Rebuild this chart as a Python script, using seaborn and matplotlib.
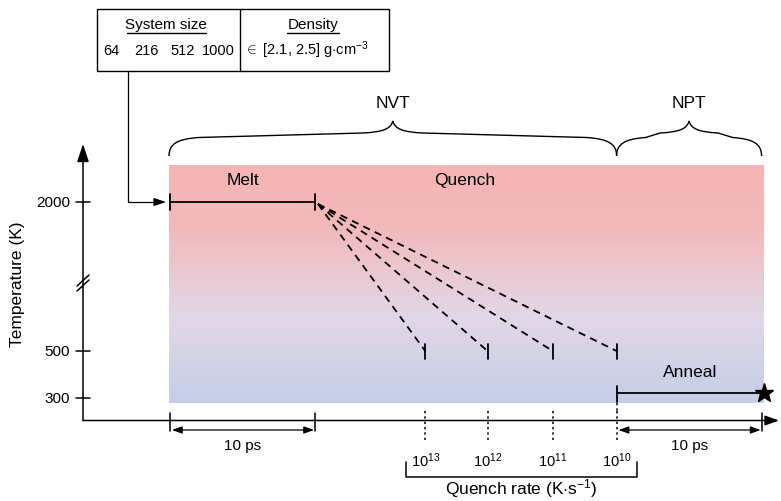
import numpy as np
import pandas as pd
import matplotlib
matplotlib.use("Agg")
import matplotlib.pyplot as plt
from matplotlib.path import Path
from matplotlib.patches import PathPatch, Rectangle
from matplotlib.colors import LinearSegmentedColormap
import seaborn as sns

# ---- schematic data ----
temp_ticks = [2000, 500, 300]          # K
T_melt = 2000
T_quench_end = 500
T_anneal = 300
melt_time = 10                          # ps
anneal_time = 10                        # ps
quench_exponents = [13, 12, 11, 10]     # quench rate 10^n K/s
quench_end_times = [17.6, 21.9, 26.4, 30.8]   # ps (schematic, not to scale)
system_sizes = [64, 216, 512, 1000]
density_range = [2.1, 2.5]
ensembles = ["NVT", "NPT"]


# schematic time/temperature -> canvas position (broken temperature axis)
def tx(t):
    return 170 + 14.5 * t


def ty(T):
    if T <= 500:
        return 352 - (T - 500) * 0.235
    return 352 - (T - 500) * (149 / 1500)


sns.set_theme(style="white")
plt.rcParams["font.family"] = ["Liberation Sans", "DejaVu Sans"]
plt.rcParams["text.color"] = "black"
plt.rcParams["mathtext.fontset"] = "custom"
plt.rcParams["mathtext.rm"] = "Liberation Sans"
plt.rcParams["mathtext.it"] = "Liberation Sans:italic"

fig = plt.figure(figsize=(7.81, 5.02), dpi=100)
ax = fig.add_axes([0, 0, 1, 1])

lw = 1.1
t_end = quench_end_times[-1] + anneal_time

# gradient background
cmap = LinearSegmentedColormap.from_list(
    "temp", [(0, "#f5b5b4"), (0.25, "#f3b8b9"), (0.64, "#e1d7e7"), (1.0, "#c4cee6")])
grad = np.linspace(0, 1, 256).reshape(-1, 1)
ax.imshow(grad, cmap=cmap, aspect="auto", origin="upper",
          extent=[169, tx(t_end) + 2, 404, 166], zorder=0)


def arrow(x0, y0, x1, y1, style="-|>", hl=0.9, hw=0.3, lw_=lw):
    ax.annotate("", xy=(x1, y1), xytext=(x0, y0),
                arrowprops=dict(arrowstyle=f"{style},head_length={hl},head_width={hw}",
                                color="black", lw=lw_, shrinkA=0, shrinkB=0))


# quench lines
rows = []
for n, te in zip(quench_exponents, quench_end_times):
    rows.append({"rate": n, "x": tx(melt_time) + 3, "y": ty(T_melt) + 2})
    rows.append({"rate": n, "x": tx(te), "y": ty(T_quench_end)})
df_q = pd.DataFrame(rows)
sns.lineplot(data=df_q, x="x", y="y", units="rate", estimator=None, sort=False,
             color="black", lw=1.3, linestyle=(0, (4, 3)), ax=ax, legend=False)
ax.set_xlim(0, 781)
ax.set_ylim(502, 0)
ax.axis("off")

# axes
arrow(83, 421.5, 83, 145)
arrow(83, 421.5, 779, 421.5, hl=0.7, hw=0.25)
for T in temp_ticks:
    ax.plot([76, 90], [ty(T), ty(T)], color="black", lw=lw)
    ax.text(70, ty(T), str(T), ha="right", va="center", fontsize=11)
for dy in (0, 5):
    ax.plot([77, 89], [287 + dy, 276 + dy], color="black", lw=lw)
ax.text(18, 284, "Temperature (K)", rotation=90, ha="center", va="center", fontsize=12.5)

# melt segment
ax.plot([tx(0), tx(melt_time)], [ty(T_melt)] * 2, color="black", lw=1.3)
for t in (0, melt_time):
    ax.plot([tx(t)] * 2, [ty(T_melt) - 8, ty(T_melt) + 8], color="black", lw=1.3)

for te in quench_end_times:
    ax.plot([tx(te)] * 2, [ty(T_quench_end) - 7, ty(T_quench_end) + 8], color="black", lw=1.3)
    ax.plot([tx(te)] * 2, [412, 443], color="black", lw=1.1, linestyle=(0, (1.5, 2)))

# anneal segment
t_a0 = quench_end_times[-1]
ax.plot([tx(t_a0), tx(t_end)], [ty(T_anneal) - 5] * 2, color="black", lw=1.3)
ax.plot([tx(t_a0)] * 2, [ty(T_anneal) - 12, ty(T_anneal) + 4], color="black", lw=1.3)
ax.plot([tx(t_a0)] * 2, [404, 415], color="black", lw=1.1, linestyle=(0, (1.5, 2)))
ax.plot(tx(t_end) + 2, ty(T_anneal) - 5, marker="*", color="black", markersize=14)

# time spans
for t in (0, melt_time, t_end):
    ax.plot([tx(t)] * 2, [414, 432], color="black", lw=lw)
for ta, tb in ((0, melt_time), (t_a0, t_end)):
    arrow(tx(ta) + 2, 431, tx(tb) - 1, 431, style="<|-|>", hl=0.5, hw=0.18, lw_=0.9)
    ax.text((tx(ta) + tx(tb)) / 2, 446, f"{melt_time} ps", ha="center", va="center", fontsize=11)

# quench rate labels and bracket
for n, te in zip(quench_exponents, quench_end_times):
    ax.text(tx(te), 467, rf"$\mathregular{{10^{{{n}}}}}$", ha="center", va="baseline", fontsize=10.5)
ax.plot([406, 406, 637, 637], [463, 478, 478, 463], color="black", lw=lw)
ax.text(521, 494, r"Quench rate (K$\cdot$s$^{\mathregular{-1}}$)", ha="center", va="baseline", fontsize=12.5)

# phase labels
ax.text(243, 181, "Melt", ha="center", va="center", fontsize=12.5)
ax.text(465, 181, "Quench", ha="center", va="center", fontsize=12.5)
ax.text(690, 373, "Anneal", ha="center", va="center", fontsize=12.5)


# curly braces for ensembles
def brace(x0, x1, yb=157, yc=122, r=30):
    xm = (x0 + x1) / 2
    r = min(r, (xm - x0) * 0.4)
    verts = [(x0, yb), (x0, yb - 12), (x0 + 8, yb - 17), (x0 + r, yb - 18.5),
             (xm - r, yc + 12),
             (xm - 10, yc + 11), (xm - 2, yc + 8), (xm, yc),
             (xm + 2, yc + 8), (xm + 10, yc + 11), (xm + r, yc + 12),
             (x1 - r, yb - 18.5),
             (x1 - 8, yb - 17), (x1, yb - 12), (x1, yb)]
    C, L = Path.CURVE4, Path.LINETO
    codes = [Path.MOVETO, C, C, C, L, C, C, C, C, C, C, L, C, C, C]
    ax.add_patch(PathPatch(Path(verts, codes), facecolor="none", edgecolor="black", lw=1.0))
    return xm


bounds = [(tx(0) - 1, tx(t_a0)), (tx(t_a0), tx(t_end))]
for name, (a, b) in zip(ensembles, bounds):
    xm = brace(a, b)
    ax.text(xm, 103, name, ha="center", va="center", fontsize=12.5)

# info table
ax.add_patch(Rectangle((97, 10), 292, 62, facecolor="white", edgecolor="black", lw=1.0))
ax.plot([240, 240], [10, 72], color="black", lw=1.0)
ax.text(166, 29.5, "System size", ha="center", va="baseline", fontsize=11)
ax.plot([127, 206], [33.5, 33.5], color="black", lw=1.0)
ax.text(313, 29.5, "Density", ha="center", va="baseline", fontsize=11)
ax.plot([287, 339], [33.5, 33.5], color="black", lw=1.0)
for i, s in enumerate(system_sizes):
    ax.text(111 + 35.7 * i, 55, str(s), ha="center", va="baseline", fontsize=10.5)
ax.text(306, 55, rf"$\in$ [{density_range[0]}, {density_range[1]}] g$\cdot$cm$^{{\mathregular{{-3}}}}$",
        ha="center", va="baseline", fontsize=10.5)

# connector from table to start of melt
ax.plot([128, 128, 160], [72, ty(T_melt), ty(T_melt)], color="black", lw=0.9)
arrow(158, ty(T_melt), 166, ty(T_melt), hl=0.6, hw=0.2, lw_=0.9)

fig.savefig("out.png", dpi=100)
